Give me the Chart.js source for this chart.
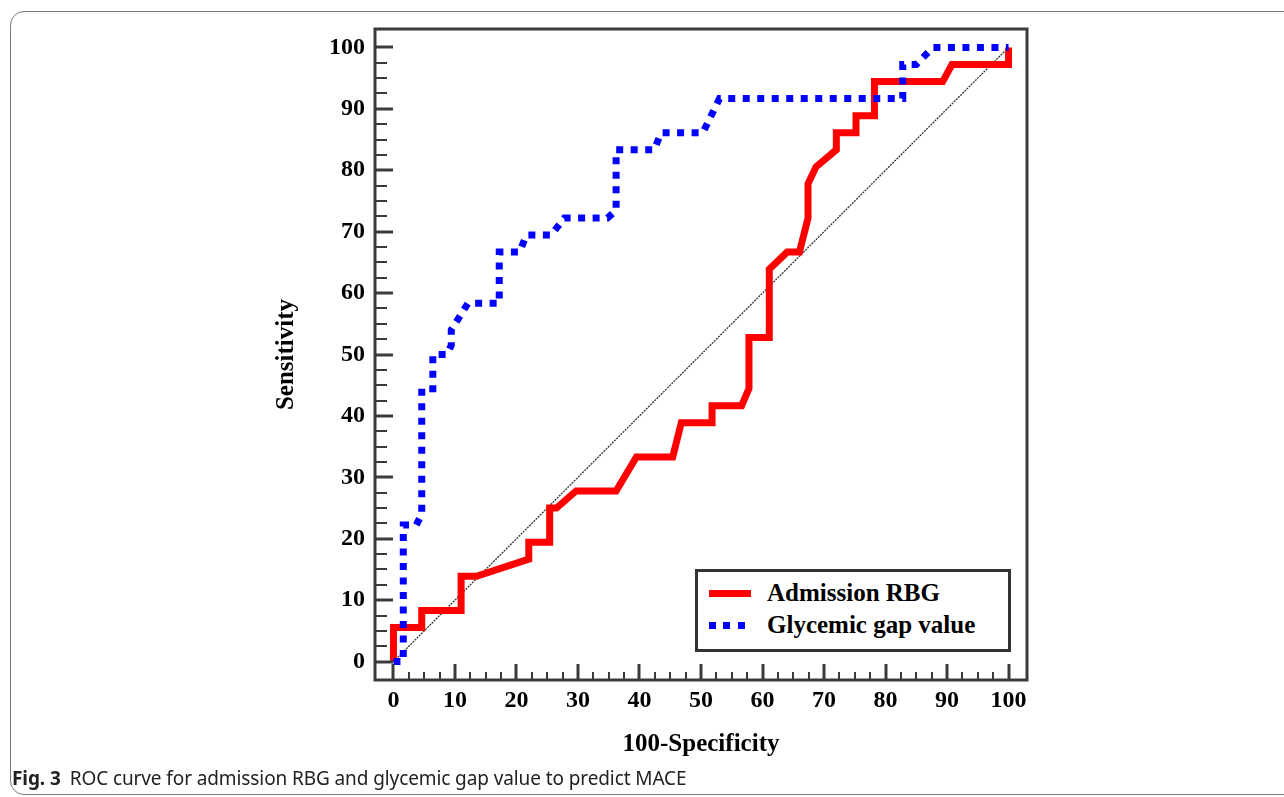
<!DOCTYPE html>
<html>
<head>
<meta charset="utf-8">
<script src="https://cdn.jsdelivr.net/npm/chart.js@4.4.1/dist/chart.umd.min.js"></script>
<style>
  html, body { margin: 0; padding: 0; background: #fff; }
  #wrap { position: relative; width: 1284px; height: 797px; overflow: hidden; }
  #frame { position: absolute; left: 10px; top: 11px; width: 1300px; height: 782px;
           border: 1.5px solid #7a7a7a; border-radius: 14px; }
  canvas { position: absolute; left: 0; top: 0; }
  #legend { position: absolute; left: 695px; top: 569px; width: 310px; height: 77px;
            border: 3px solid #333; background: #fff; }
  .lg-row { position: absolute; left: 0; font: bold 25px "Liberation Serif", "Times New Roman", serif;
            line-height: 30px; color: #000; white-space: nowrap; }
  .lg-swatch { position: absolute; height: 7px; }
  #caption { position: absolute; left: 12px; top: 767px; font: 19px "Noto Sans", "Open Sans", sans-serif;
             line-height: 22px; color: #222; white-space: nowrap; letter-spacing: -0.1px; }
  #caption b { font-weight: 700; margin-right: 9px; }
</style>
</head>
<body>
<div id="wrap">
  <div id="frame"></div>
  <canvas id="roc" width="1284" height="797"></canvas>
  <div id="legend"></div>
  <div id="caption"><b>Fig. 3</b>ROC curve for admission RBG and glycemic gap value to predict MACE</div>
</div>
<script>
// series names and colours
const seriesNames = ['Admission RBG', 'Glycemic gap value'];
const seriesColors = ['#ff0000', '#0000ff'];

// Admission RBG: 100-specificity / sensitivity
const rbgX = [0, 0, 4.6, 4.6, 11, 11, 13.5, 22, 22, 25.4, 25.4, 26.5, 29.7, 36.2, 39.5, 45.4, 46.8, 51.8, 51.8, 56.6, 57.8, 57.8, 61.1, 61.1, 64, 66, 67.4, 67.4, 68.7, 72, 72, 75.2, 75.2, 78.2, 78.2, 89.3, 90.8, 100, 100];
const rbgY = [0, 5.56, 5.56, 8.33, 8.33, 13.89, 13.89, 16.67, 19.44, 19.44, 25, 25, 27.78, 27.78, 33.33, 33.33, 38.89, 38.89, 41.67, 41.67, 44.44, 52.78, 52.78, 63.89, 66.67, 66.67, 72.22, 77.78, 80.56, 83.33, 86.11, 86.11, 88.89, 88.89, 94.44, 94.44, 97.22, 97.22, 100];

// Glycemic gap value
const gapX = [0, 1.6, 1.6, 3.7, 4.6, 4.6, 6.4, 6.4, 8.7, 9.4, 9.4, 12.1, 17.2, 17.2, 20.5, 21.6, 25.6, 27.8, 34.8, 36.2, 36.2, 42.4, 43.5, 50.3, 53, 82.8, 82.8, 85, 87.7, 100];
const gapY = [0, 0, 22.22, 22.22, 24, 44.44, 44.44, 50, 50, 51.5, 54, 58.33, 58.33, 66.67, 66.67, 69.44, 69.44, 72.22, 72.22, 73.5, 83.33, 83.33, 86.11, 86.11, 91.67, 91.67, 97.22, 97.22, 100, 100];

// reference diagonal
const diagX = [0, 100];
const diagY = [0, 100];

// axis tick labels
const xTicks = [0, 10, 20, 30, 40, 50, 60, 70, 80, 90, 100];
const yTicks = [0, 10, 20, 30, 40, 50, 60, 70, 80, 90, 100];

const toPoints = (xs, ys) => xs.map((x, i) => ({ x, y: ys[i] }));

// legend (html)
const legend = document.getElementById('legend');
seriesNames.forEach((name, i) => {
  const sw = document.createElement('div');
  sw.className = 'lg-swatch';
  sw.style.left = '11px';
  sw.style.top = (i === 0 ? 18 : 50) + 'px';
  sw.style.width = (i === 0 ? 42 : 37) + 'px';
  sw.style.background = i === 0 ? seriesColors[0]
    : 'repeating-linear-gradient(to right, ' + seriesColors[1] + ' 0 7px, transparent 7px 14.5px)';
  legend.appendChild(sw);
  const row = document.createElement('div');
  row.className = 'lg-row';
  row.style.left = '69px';
  row.style.top = (i === 0 ? 6 : 38) + 'px';
  row.textContent = name;
  legend.appendChild(row);
});

// frame + inward tick marks
const framePlugin = {
  id: 'frame',
  afterDatasetsDraw(chart) {
    const { ctx, chartArea: a, scales } = chart;
    ctx.save();
    ctx.strokeStyle = '#3a3a3a';
    for (let v = 0; v <= 100; v += 2.5) {
      const major = v % 10 === 0;
      ctx.lineWidth = major ? 3 : 2;
      const px = Math.round(scales.x.getPixelForValue(v));
      ctx.beginPath();
      ctx.moveTo(px, a.bottom);
      ctx.lineTo(px, a.bottom - (major ? 16 : 8));
      ctx.stroke();
      const py = Math.round(scales.y.getPixelForValue(v));
      ctx.beginPath();
      ctx.moveTo(a.left, py);
      ctx.lineTo(a.left + (major ? 18 : 12), py);
      ctx.stroke();
    }
    ctx.lineWidth = 3;
    ctx.strokeRect(a.left, a.top, a.right - a.left, a.bottom - a.top);
    ctx.restore();
  }
};

const tickFont = { family: '"Liberation Serif", "Times New Roman", serif', size: 24, weight: 'bold' };
const titleFont = { family: '"Liberation Serif", "Times New Roman", serif', size: 25, weight: 'bold' };

new Chart(document.getElementById('roc').getContext('2d'), {
  type: 'line',
  data: {
    datasets: [
      {
        label: seriesNames[1],
        data: toPoints(gapX, gapY),
        borderColor: seriesColors[1],
        borderWidth: 7,
        borderDash: [7, 7.5],
        borderCapStyle: 'butt',
        borderJoinStyle: 'miter',
        pointRadius: 0,
        tension: 0,
        fill: false,
        order: 0
      },
      {
        label: seriesNames[0],
        data: toPoints(rbgX, rbgY),
        borderColor: seriesColors[0],
        borderWidth: 7,
        borderJoinStyle: 'miter',
        pointRadius: 0,
        tension: 0,
        fill: false,
        order: 1
      },
      {
        label: 'diagonal',
        data: toPoints(diagX, diagY),
        borderColor: '#333',
        borderWidth: 1.3,
        borderDash: [2, 1],
        pointRadius: 0,
        fill: false,
        order: 2
      }
    ]
  },
  options: {
    responsive: false,
    animation: false,
    layout: { padding: { top: 29, right: 257, left: 0, bottom: 0 } },
    scales: {
      x: {
        type: 'linear',
        min: -3,
        max: 103,
        afterFit: s => { s.height = 117; },
        afterBuildTicks: s => { s.ticks = xTicks.map(v => ({ value: v })); },
        grid: { display: false, drawTicks: false },
        border: { display: false },
        ticks: { font: tickFont, color: '#000', padding: 6, autoSkip: false, maxRotation: 0 },
        title: { display: true, text: '100-Specificity', font: titleFont, color: '#000', padding: { top: 0, bottom: 37 } }
      },
      y: {
        type: 'linear',
        min: -3,
        max: 103,
        afterFit: s => { s.width = 375; },
        afterBuildTicks: s => { s.ticks = yTicks.map(v => ({ value: v })); },
        grid: { display: false, drawTicks: false },
        border: { display: false },
        ticks: { font: tickFont, color: '#000', padding: 10, autoSkip: false },
        title: { display: true, text: 'Sensitivity', font: titleFont, color: '#000', padding: { top: 272, bottom: 0 } }
      }
    },
    plugins: {
      legend: { display: false },
      tooltip: { enabled: false }
    }
  },
  plugins: [framePlugin]
});
</script>
</body>
</html>
